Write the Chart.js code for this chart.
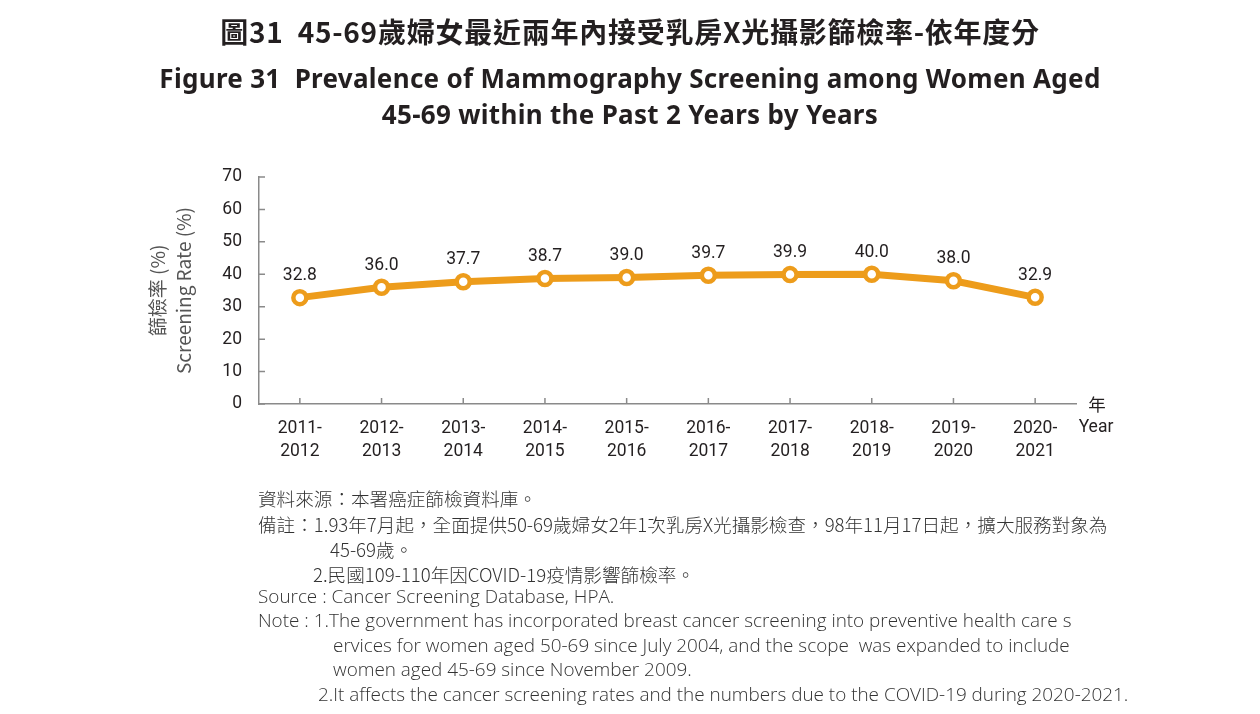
<!DOCTYPE html>
<html>
<head>
<meta charset="utf-8">
<script src="https://cdn.jsdelivr.net/npm/chart.js@4.4.0/dist/chart.umd.min.js"></script>
<style>
	body { margin: 0; background: #fff; }
	#page { position: relative; width: 1260px; height: 714px; overflow: hidden; }
	#myChart { position: absolute; left: 0; top: 0; }
	.t { position: absolute; white-space: nowrap; color: #231f20; line-height: 1; }
	.tc { left: 0; width: 1260px; text-align: center; }
	.zh-title { font: bold 28px "Noto Sans CJK TC"; letter-spacing: 0.75px; }
	.en-title { font: bold 26px "Noto Sans"; letter-spacing: 0.3px; }
	.note-zh { font: 300 18.6px "Noto Sans CJK TC"; color: #333; }
	.note-en { font: 300 18.9px "Open Sans"; color: #333; }
</style>
<title>Mammography screening</title>
</head>
<body>
<div id="page">
	<canvas id="myChart" width="1260" height="714"></canvas>

	<div class="t tc zh-title" style="top:11px">圖31&nbsp; 45-69歲婦女最近兩年內接受乳房X光攝影篩檢率-依年度分</div>
	<div class="t tc en-title" style="top:60px">Figure 31&nbsp; Prevalence of Mammography Screening among Women Aged</div>
	<div class="t tc en-title" style="top:96px">45-69 within the Past 2 Years by Years</div>

	<!-- 資料來源與備註 -->
	<div class="t note-zh" style="left:258px;top:484px">資料來源：本署癌症篩檢資料庫。</div>
	<div class="t note-zh" style="left:258px;top:510px">備註：1.93年7月起，全面提供50-69歲婦女2年1次乳房X光攝影檢查，98年11月17日起，擴大服務對象為</div>
	<div class="t note-zh" style="left:330px;top:535px">45-69歲。</div>
	<div class="t note-zh" style="left:313px;top:560px">2.民國109-110年因COVID-19疫情影響篩檢率。</div>
	<div class="t note-en" style="left:258px;top:583px">Source : Cancer Screening Database, HPA.</div>
	<div class="t note-en" style="left:258px;top:607px">Note : 1.The government has incorporated breast cancer screening into preventive health care s</div>
	<div class="t note-en" style="left:333px;top:632px">ervices for women aged 50-69 since July 2004, and the scope&nbsp; was expanded to include</div>
	<div class="t note-en" style="left:333px;top:656px">women aged 45-69 since November 2009.</div>
	<div class="t note-en" style="left:318px;top:681px">2.It affects the cancer screening rates and the numbers due to the COVID-19 during 2020-2021.</div>
</div>

<script>
	// 資料
	var years = [["2011-", "2012"], ["2012-", "2013"], ["2013-", "2014"], ["2014-", "2015"], ["2015-", "2016"],
		["2016-", "2017"], ["2017-", "2018"], ["2018-", "2019"], ["2019-", "2020"], ["2020-", "2021"]];
	var rates = [32.8, 36.0, 37.7, 38.7, 39.0, 39.7, 39.9, 40.0, 38.0, 32.9];
	var yTicks = [0, 10, 20, 30, 40, 50, 60, 70];

	var orange = "#ED9C1B";
	var axisGrey = "#8a8a8a";
	var textColor = "#231f20";
	var numFont = "Roboto";

	// 數值標籤、內側刻度與「年 / Year」
	var extras = {
		id: "extras",
		beforeDatasetsDraw: function (chart) {
			var ctx = chart.ctx, area = chart.chartArea;
			var x = chart.scales.x, y = chart.scales.y;
			ctx.save();
			ctx.strokeStyle = axisGrey;
			ctx.lineWidth = 1.5;
			ctx.beginPath();
			yTicks.forEach(function (v) {
				var py = y.getPixelForValue(v);
				ctx.moveTo(area.left, py);
				ctx.lineTo(area.left + 6, py);
			});
			for (var i = 0; i < years.length; i++) {
				var px = x.getPixelForValue(i);
				ctx.moveTo(px, area.bottom);
				ctx.lineTo(px, area.bottom - 6);
			}
			ctx.stroke();
			ctx.restore();
		},
		afterDatasetsDraw: function (chart) {
			var ctx = chart.ctx, area = chart.chartArea;
			var meta = chart.getDatasetMeta(0);
			ctx.save();
			ctx.font = "17.5px " + numFont;
			ctx.fillStyle = textColor;
			ctx.textAlign = "center";
			ctx.textBaseline = "middle";
			meta.data.forEach(function (pt, i) {
				ctx.fillText(rates[i].toFixed(1), pt.x, pt.y - 22);
			});
			ctx.font = "17.5px 'Noto Sans CJK TC'";
			ctx.fillText("年", area.right + 21, area.bottom);
			ctx.font = "17.5px " + numFont;
			ctx.fillText("Year", area.right + 20, area.bottom + 24);
			ctx.restore();
		}
	};

	var ctx = document.getElementById("myChart").getContext("2d");
	var myChart = new Chart(ctx, {
		type: "line",
		data: {
			labels: years,
			datasets: [{
				data: rates,
				borderColor: orange,
				borderWidth: 7,
				pointRadius: 6.5,
				pointBorderWidth: 4.5,
				pointBackgroundColor: "#fff",
				pointBorderColor: orange,
				tension: 0
			}]
		},
		options: {
			responsive: false,
			animation: false,
			layout: { padding: { left: 145, top: 177, right: 184, bottom: 250 } },
			plugins: { legend: { display: false }, tooltip: { enabled: false } },
			scales: {
				x: {
					offset: true,
					grid: { display: false, drawTicks: false },
					border: { display: true, color: axisGrey, width: 1.5 },
					ticks: {
						color: textColor, padding: 13, maxRotation: 0, autoSkip: false,
						font: { family: numFont, size: 17.5, lineHeight: "23px" }
					},
					afterFit: function (scale) { scale.height = 60; }
				},
				y: {
					min: 0, max: 70,
					grid: { display: false, drawTicks: false },
					border: { display: true, color: axisGrey, width: 1.5 },
					ticks: {
						stepSize: 10, color: textColor, padding: 17,
						font: { family: numFont, size: 17.5 }
					},
					title: {
						display: true,
						text: ["篩檢率 (%)", "Screening Rate (%)"],
						color: "#555",
						padding: 0,
						font: { family: "'Noto Sans CJK TC', " + numFont, size: 19, lineHeight: "26px" }
					},
					afterFit: function (scale) { scale.width = 114; }
				}
			}
		},
		plugins: [extras]
	});
</script>
</body>
</html>
